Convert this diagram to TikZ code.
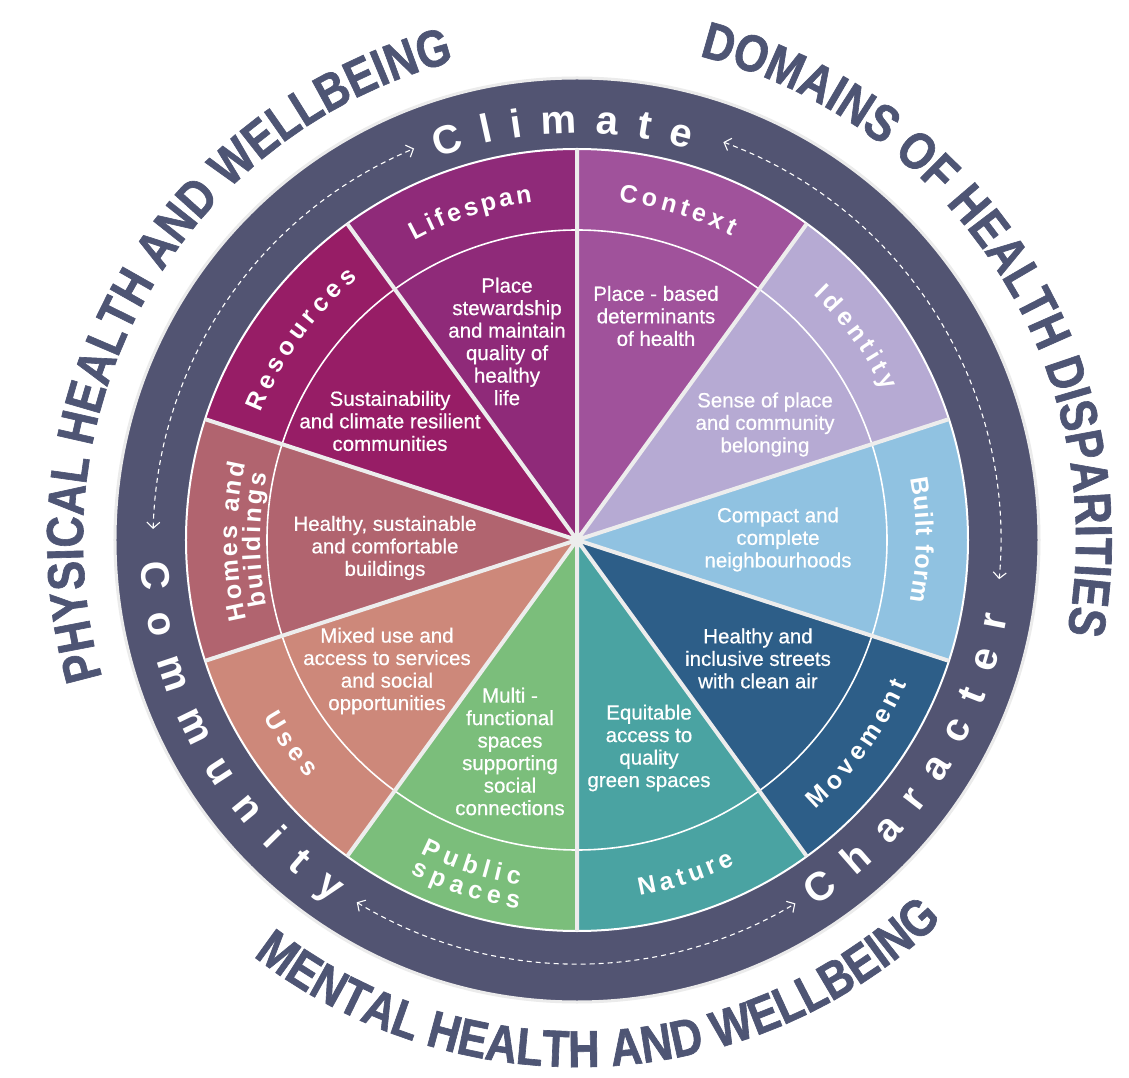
\documentclass[tikz,border=0pt]{standalone}
\usepackage{fontspec}
\setmainfont{Liberation Sans}
\newfontfamily\narrowfamily[FakeStretch=0.84, FakeBold=1.2]{Liberation Sans}
\newfontfamily\notefamily[FakeBold=0.5]{Liberation Sans}
\usetikzlibrary{arrows.meta, decorations.text}

\definecolor{ringslate}{HTML}{525472}
\definecolor{titleslate}{HTML}{4E5574}
\definecolor{lifespancol}{HTML}{8F2A79}
\definecolor{resourcescol}{HTML}{971D66}
\definecolor{contextcol}{HTML}{A0529B}
\definecolor{identitycol}{HTML}{B6AAD3}
\definecolor{builtcol}{HTML}{90C2E1}
\definecolor{movementcol}{HTML}{2D5E88}
\definecolor{naturecol}{HTML}{4AA3A2}
\definecolor{publiccol}{HTML}{7BBE7B}
\definecolor{usescol}{HTML}{CD887A}
\definecolor{homescol}{HTML}{B1646F}
\definecolor{divider}{HTML}{EDEDED}

\newcommand\ringfont{\bfseries\fontsize{40}{40}\selectfont}
\newcommand\segfont{\bfseries\fontsize{25}{25}\selectfont}
\newcommand\outerfont{\narrowfamily\bfseries\fontsize{52}{52}\selectfont}

\begin{document}
\begin{tikzpicture}[
x=1pt, y=1pt,
desc/.style={
text=white,
align=center,
inner sep=0pt,
font=\notefamily\fontsize{20.5}{22.5}\selectfont
},
ringword/.style={
decorate,
decoration={text along path, text align={fit to path}, text color=white, text={|\ringfont|#1}}
},
segword/.style={
decorate,
decoration={text along path, text align={fit to path}, text color=white, text={|\segfont|#1}}
},
outerword/.style={
decorate,
decoration={text along path, text align=center, text color=titleslate, text={|\outerfont|#1}}
},
flowarrow/.style={
draw=white,
line width=1.1pt,
dash pattern=on 5pt off 4pt,
{Straight Barb[length=6pt,width=13pt]}-{Straight Barb[length=6pt,width=13pt]}
},
divider line/.style={draw=divider, line width=4pt}
]

\fill[white] (-577,-538) rectangle (552,540);
\useasboundingbox (-577,-538) rectangle (552,540);

% Outer ring
\fill[ringslate, draw=black!8, line width=3pt] (0,0) circle[radius=462pt];

% Wedges, clockwise from the top
\fill[contextcol] (0,0) -- (90:391pt) arc[start angle=90, end angle=54, radius=391pt] -- cycle;
\fill[identitycol] (0,0) -- (54:391pt) arc[start angle=54, end angle=18, radius=391pt] -- cycle;
\fill[builtcol] (0,0) -- (18:391pt) arc[start angle=18, end angle=-18, radius=391pt] -- cycle;
\fill[movementcol] (0,0) -- (-18:391pt) arc[start angle=-18, end angle=-54, radius=391pt] -- cycle;
\fill[naturecol] (0,0) -- (-54:391pt) arc[start angle=-54, end angle=-90, radius=391pt] -- cycle;
\fill[publiccol] (0,0) -- (-90:391pt) arc[start angle=-90, end angle=-126, radius=391pt] -- cycle;
\fill[usescol] (0,0) -- (-126:391pt) arc[start angle=-126, end angle=-162, radius=391pt] -- cycle;
\fill[homescol] (0,0) -- (198:391pt) arc[start angle=198, end angle=162, radius=391pt] -- cycle;
\fill[resourcescol] (0,0) -- (162:391pt) arc[start angle=162, end angle=126, radius=391pt] -- cycle;
\fill[lifespancol] (0,0) -- (126:391pt) arc[start angle=126, end angle=90, radius=391pt] -- cycle;

% Rims and dividers
\draw[white, line width=1.6pt] (0,0) circle[radius=310pt];
\draw[white, line width=2pt] (0,0) circle[radius=391pt];
\draw[divider line] (0,0) -- (90:391pt) (0,0) -- (54:391pt) (0,0) -- (18:391pt)
  (0,0) -- (-18:391pt) (0,0) -- (-54:391pt) (0,0) -- (-90:391pt)
  (0,0) -- (-126:391pt) (0,0) -- (-162:391pt) (0,0) -- (162:391pt) (0,0) -- (126:391pt);

% Descriptions
\node[desc] (contextnote) at (79,224) {Place - based\\determinants\\of health};
\node[desc] (identitynote) at (188,115.5) {Sense of place\\and community\\belonging};
\node[desc] (builtnote) at (201,0.5) {Compact and\\complete\\neighbourhoods};
\node[desc] (movementnote) at (181,-118.5) {Healthy and\\inclusive streets\\with clean air};
\node[desc] (naturenote) at (72,-208) {Equitable\\access to\\quality\\green spaces};
\node[desc] (publicnote) at (-67,-211.5) {Multi -\\functional\\spaces\\supporting\\social\\connections};
\node[desc] (usesnote) at (-190,-131) {Mixed use and\\access to services\\and social\\opportunities};
\node[desc] (homesnote) at (-192,-8) {Healthy, sustainable\\and comfortable\\buildings};
\node[desc] (resourcesnote) at (-187,119) {Sustainability\\and climate resilient\\communities};
\node[desc] (lifespannote) at (-70,198.5) {Place\\stewardship\\and maintain\\quality of\\healthy\\life};

% Segment titles
\path[segword=Context] (83:341pt) arc[start angle=83, end angle=63, radius=341pt];
\path[segword=Identity] (46:341pt) arc[start angle=46, end angle=26, radius=341pt];
\path[segword={Built form}] (10.5:339pt) arc[start angle=10.5, end angle=-10.5, radius=339pt];
\path[segword=Movement] (-48.5:360pt) arc[start angle=-48.5, end angle=-23.5, radius=360pt];
\path[segword=Nature] (-80:361pt) arc[start angle=-80, end angle=-64, radius=361pt];
\path[segword=Public] (243.5:350pt) arc[start angle=243.5, end angle=260.5, radius=350pt];
\path[segword=spaces] (243.5:373pt) arc[start angle=243.5, end angle=261, radius=373pt];
\path[segword=Uses] (209.5:360pt) arc[start angle=209.5, end angle=221.5, radius=360pt];
\path[segword={Homes and}] (193.5:340pt) arc[start angle=193.5, end angle=167, radius=340pt];
\path[segword=buildings] (192:317pt) arc[start angle=192, end angle=168, radius=317pt];
\path[segword=Resources] (158:341pt) arc[start angle=158, end angle=130, radius=341pt];
\path[segword=Lifespan] (118.5:341pt) arc[start angle=118.5, end angle=97.5, radius=341pt];

% Ring words and arrows
\path[ringword=Climate] (110:407pt) arc[start angle=110, end angle=74, radius=407pt];
\path[ringword=Character] (-57:437pt) arc[start angle=-57, end angle=-10, radius=437pt];
\path[ringword=Community] (183:437pt) arc[start angle=183, end angle=236, radius=437pt];

\draw[flowarrow] (178.5:424pt) arc[start angle=178.5, end angle=112.6, radius=424pt];
\draw[flowarrow] (69.8:424pt) arc[start angle=69.8, end angle=-5.3, radius=424pt];
\draw[flowarrow] (238.7:424pt) arc[start angle=238.7, end angle=301, radius=424pt];

% Outer headings
\path[outerword={PHYSICAL HEALTH AND WELLBEING}] (210.25:494pt) arc[start angle=210.25, end angle=90.25, radius=494pt];
\path[outerword={DOMAINS OF HEALTH DISPARITIES}] (92.5:499pt) arc[start angle=92.5, end angle=-27.5, radius=499pt];
\path[outerword={MENTAL HEALTH AND WELLBEING}] (213:527pt) arc[start angle=213, end angle=333, radius=527pt];

\end{tikzpicture}
\end{document}
